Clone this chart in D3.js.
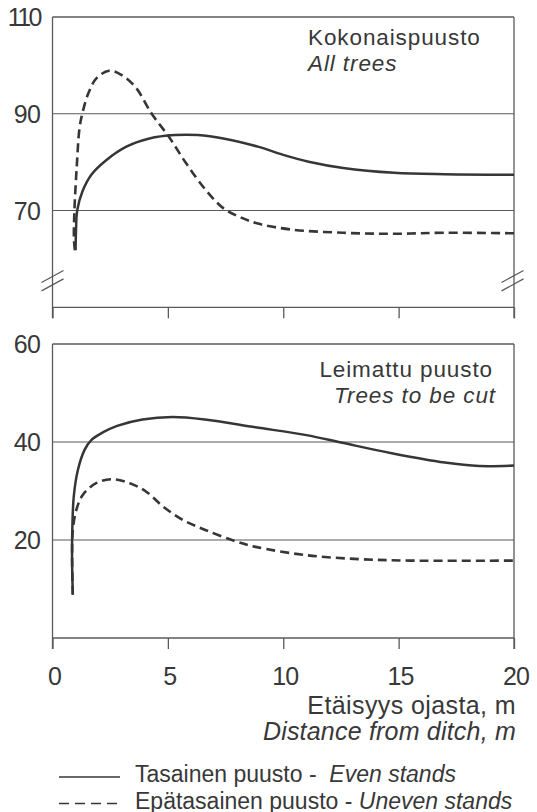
<!DOCTYPE html>
<html>
<head>
<meta charset="utf-8">
<script src="https://cdn.jsdelivr.net/npm/d3@7"></script>
<style>
  html, body { margin: 0; padding: 0; background: #fff; }
  svg { display: block; }
  text { font-family: "Liberation Sans", Arial, Helvetica, sans-serif; fill: #383838; }
</style>
</head>
<body>
<svg id="chart" width="537" height="812"></svg>
<script>
// ---- Data ----
const xTicks = [0, 5, 10, 15, 20];
const topYTicks = [110, 90, 70];
const bottomYTicks = [60, 40, 20];

// Kokonaispuusto / All trees
const allEvenX  = [1.0, 1.02, 1.07, 1.3, 1.7, 2.3, 3.2, 4.2, 5.3, 6.3, 7.4, 8.9, 10.0, 11.1, 12.6, 14.8, 17.0, 20.0];
const allEvenY  = [61.8, 66, 70, 74, 77.5, 80.3, 83.2, 84.9, 85.6, 85.6, 84.9, 83.2, 81.5, 80.1, 78.8, 77.8, 77.5, 77.4];
const allUnevenX = [0.97, 0.93, 0.95, 1.05, 1.17, 1.3, 1.55, 1.9, 2.45, 3.0, 3.6, 4.3, 5.05, 5.8, 6.65, 7.4, 8.1, 8.9, 10.3, 12.6, 14.8, 17.0, 20.0];
const allUnevenY = [61.8, 64, 70, 79, 87, 90.2, 94.2, 97.3, 98.9, 98.0, 95.5, 90.0, 85.2, 79.7, 74.2, 70.5, 68.7, 67.3, 66.1, 65.4, 65.2, 65.4, 65.3];

// Leimattu puusto / Trees to be cut
const cutEvenX  = [0.88, 0.85, 0.85, 0.92, 1.1, 1.39, 1.68, 2.2, 2.8, 3.9, 5.2, 6.6, 8.8, 11.0, 12.5, 14.7, 17.0, 18.5, 20.0];
const cutEvenY  = [9, 15, 20, 28.8, 34.3, 38.4, 40.4, 42.0, 43.3, 44.6, 45.1, 44.6, 43.0, 41.4, 39.9, 37.7, 35.8, 35.1, 35.2];
const cutUnevenX = [0.88, 0.85, 0.88, 1.03, 1.31, 1.89, 2.6, 3.35, 4.05, 4.8, 5.65, 6.65, 7.95, 8.8, 11.0, 13.3, 15.5, 20.0];
const cutUnevenY = [8.8, 16.6, 22, 26.1, 29.2, 31.6, 32.4, 31.6, 29.9, 26.8, 24.1, 22.0, 19.7, 18.6, 16.9, 16.1, 15.8, 15.8];

const topTitle = ["Kokonaispuusto", "All trees"];
const bottomTitle = ["Leimattu puusto", "Trees to be cut"];
const xTitle = ["Etäisyys ojasta, m", "Distance from ditch, m"];
const legendItems = [
  {fi: "Tasainen puusto -  ", en: "Even stands", dashed: false},
  {fi: "Epätasainen puusto - ", en: "Uneven stands", dashed: true}
];

// ---- Layout ----
const svg = d3.select("#chart");
const ink = "#363636";
const frameCol = "#5a5a5a";

const x = d3.scaleLinear().domain([0, 20]).range([52.5, 514]);
const yTop = d3.scaleLinear().domain([50, 110]).range([307.3, 17]);
const yBot = d3.scaleLinear().domain([0, 60]).range([638, 344]);

const tickLen = 11;

function panel(y, yTicks, gridVals, breaks) {
  const g = svg.append("g");
  const [y0, y1] = y.domain();
  g.selectAll("line.grid").data(gridVals).join("line")
    .attr("x1", x(0)).attr("x2", x(20))
    .attr("y1", d => y(d)).attr("y2", d => y(d))
    .attr("stroke", frameCol).attr("stroke-width", 1.1);
  [y0, y1].forEach(v => {
    g.append("line").attr("x1", x(0)).attr("x2", x(20))
      .attr("y1", y(v)).attr("y2", y(v))
      .attr("stroke", frameCol).attr("stroke-width", 1.3);
  });
  [0, 20].forEach(v => {
    g.append("line").attr("x1", x(v)).attr("x2", x(v))
      .attr("y1", y(y1)).attr("y2", y(y0) + tickLen)
      .attr("stroke", frameCol).attr("stroke-width", 1.3);
  });
  const xAxis = d3.axisBottom(x).tickValues(xTicks).tickSize(tickLen).tickFormat("");
  const ax = g.append("g").attr("transform", `translate(0,${y(y0)})`).call(xAxis);
  ax.select(".domain").remove();
  ax.selectAll(".tick line").attr("stroke", frameCol).attr("stroke-width", 1.3);
  g.selectAll("text.ylab").data(yTicks).join("text")
    .attr("x", 40).attr("y", d => y(d)).attr("dy", "0.36em")
    .attr("text-anchor", "end").attr("font-size", 25)
    .attr("letter-spacing", d => String(d).length > 2 ? -2.5 : -0.8)
    .text(d => d);
  if (breaks) {
    const bv = 55.5;
    [0, 20].forEach(v => {
      [-4.2, 4.2].forEach(off => {
        const cx = x(v) + (v === 0 ? 0 : -1.5), cy = y(bv) + off;
        g.append("line")
          .attr("x1", cx - 11).attr("y1", cy + 6)
          .attr("x2", cx + 11).attr("y2", cy - 6)
          .attr("stroke", frameCol).attr("stroke-width", 1.2);
      });
    });
  }
  return g;
}

panel(yTop, topYTicks, [90, 70], true);
panel(yBot, bottomYTicks, [40, 20], false);

// ---- Curves ----
function drawCurve(xs, ys, y, dashed) {
  const pts = xs.map((v, i) => [v, ys[i]]);
  const line = d3.line().x(d => x(d[0])).y(d => y(d[1]))
    .curve(d3.curveCatmullRom.alpha(0.5));
  svg.append("path").datum(pts).attr("d", line)
    .attr("fill", "none").attr("stroke", ink)
    .attr("stroke-width", dashed ? 2.6 : 2.5)
    .attr("stroke-dasharray", dashed ? "9,5" : null)
    .attr("stroke-linejoin", "round");
}
drawCurve(allEvenX, allEvenY, yTop, false);
drawCurve(allUnevenX, allUnevenY, yTop, true);
drawCurve(cutEvenX, cutEvenY, yBot, false);
drawCurve(cutUnevenX, cutUnevenY, yBot, true);

// ---- Panel titles ----
const tfs = 22.5;
svg.append("text").attr("x", 308).attr("y", 45).attr("font-size", tfs).attr("letter-spacing", 0.9).text(topTitle[0]);
svg.append("text").attr("x", 308).attr("y", 71).attr("font-size", tfs).attr("font-style", "italic").attr("letter-spacing", 0.9).text(topTitle[1]);
svg.append("text").attr("x", 493).attr("y", 377).attr("font-size", tfs).attr("text-anchor", "end").attr("letter-spacing", 0.9).text(bottomTitle[0]);
svg.append("text").attr("x", 496).attr("y", 403).attr("font-size", tfs).attr("text-anchor", "end").attr("font-style", "italic").attr("letter-spacing", 0.9).text(bottomTitle[1]);

// ---- X tick labels ----
svg.selectAll("text.xlab").data(xTicks).join("text")
  .attr("x", d => x(d) + 2).attr("y", 685)
  .attr("text-anchor", "middle").attr("font-size", 25)
  .attr("letter-spacing", -0.8)
  .text(d => d);

// ---- X axis title ----
svg.append("text").attr("x", 516).attr("y", 714).attr("text-anchor", "end").attr("font-size", 25).attr("letter-spacing", 0.4).text(xTitle[0]);
svg.append("text").attr("x", 516).attr("y", 740).attr("text-anchor", "end").attr("font-size", 25).attr("font-style", "italic").attr("letter-spacing", 0.2).text(xTitle[1]);

// ---- Legend ----
const lg = svg.append("g");
legendItems.forEach((it, i) => {
  const ly = 777 + i * 26.5;
  lg.append("line").attr("x1", 59).attr("x2", 120).attr("y1", ly).attr("y2", ly)
    .attr("stroke", ink).attr("stroke-width", 1.5)
    .attr("stroke-dasharray", it.dashed ? "10,6" : null);
  const t = lg.append("text").attr("x", 135).attr("y", ly + 5).attr("font-size", 23)
    .attr("xml:space", "preserve").style("white-space", "pre");
  t.append("tspan").text(it.fi);
  t.append("tspan").attr("font-style", "italic").text(it.en);
});
</script>
</body>
</html>
